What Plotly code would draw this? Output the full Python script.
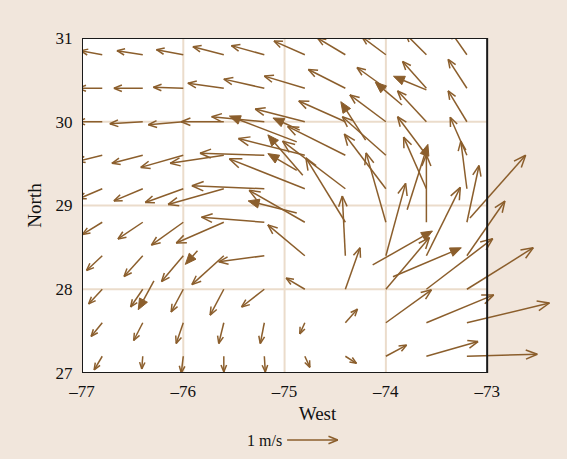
import math
import plotly.graph_objects as go

# ---------------- data ----------------
lons = [-76.8, -76.4, -76.0, -75.6, -75.2, -74.8, -74.4, -74.0, -73.6, -73.2]
lats = [30.8, 30.4, 30.0, 29.6, 29.2, 28.8, 28.4, 28.0, 27.6, 27.2]

# eastward velocity u (m/s), one row per latitude (north to south)
u_rows = [
    [-0.43, -0.51, -0.53, -0.61, -0.65, -0.61, -0.55, -0.47, -0.41, -0.33],
    [-0.47, -0.57, -0.59, -0.71, -0.80, -0.80, -0.73, -0.57, -0.47, -0.37],
    [-0.49, -0.65, -0.69, -0.84, -1.04, -0.98, -0.92, -0.71, -0.57, -0.37],
    [-0.49, -0.61, -0.84, -1.06, -1.27, -1.31, -1.14, -0.86, -0.57, -0.33],
    [-0.47, -0.57, -0.75, -1.10, -1.43, -1.49, -1.24, -0.82, -0.45, -0.12],
    [-0.39, -0.49, -0.63, -0.94, -1.24, -1.10, -0.78, -0.39, 0.00, 0.24],
    [-0.31, -0.37, -0.43, -0.63, -0.90, -0.73, -0.06, 0.39, 0.67, 0.75],
    [-0.27, -0.24, -0.24, -0.27, -0.45, -0.37, 0.29, 0.86, 1.31, 1.31],
    [-0.22, -0.18, -0.14, -0.10, -0.08, -0.10, 0.24, 0.90, 1.33, 1.63],
    [-0.16, -0.02, -0.04, 0.00, 0.02, 0.10, 0.22, 0.41, 1.02, 1.39],
]
# northward velocity v (m/s)
v_rows = [
    [0.08, 0.08, 0.10, 0.16, 0.18, 0.27, 0.33, 0.35, 0.41, 0.47],
    [0.00, 0.00, 0.02, 0.10, 0.18, 0.24, 0.37, 0.41, 0.53, 0.57],
    [0.00, -0.04, -0.06, 0.00, 0.10, 0.25, 0.41, 0.53, 0.61, 0.61],
    [-0.12, -0.16, -0.24, -0.16, 0.04, 0.33, 0.57, 0.76, 0.76, 0.75],
    [-0.20, -0.24, -0.27, -0.31, 0.06, 0.59, 0.94, 1.08, 1.02, 0.94],
    [-0.24, -0.33, -0.45, -0.41, 0.10, 0.63, 1.27, 1.37, 1.33, 1.12],
    [-0.29, -0.41, -0.51, -0.57, -0.12, 0.61, 1.18, 1.43, 1.35, 1.08],
    [-0.29, -0.35, -0.45, -0.51, -0.35, 0.22, 0.82, 1.02, 1.00, 0.82],
    [-0.27, -0.35, -0.41, -0.41, -0.41, -0.22, 0.27, 0.65, 0.55, 0.39],
    [-0.27, -0.25, -0.33, -0.31, -0.31, -0.22, -0.14, 0.22, 0.29, 0.04],
]

# one extra open arrow off the grid
extra_lon = [-73.17]
extra_lat = [28.85]
extra_u = [1.10]
extra_v = [1.24]

# second set of vectors (filled heads)
obs_lon = [-73.84, -73.60, -74.88, -74.85, -74.82, -74.88, -74.88, -76.99, -75.86, -76.29, -74.13, -73.93, -73.79, -74.20]
obs_lat = [30.20, 30.38, 29.76, 29.90, 29.36, 29.42, 28.91, 28.62, 28.46, 28.10, 28.29, 28.15, 28.95, 29.78]
obs_u = [-0.53, -0.65, -1.33, -0.53, -0.69, -0.57, -0.96, -0.35, -0.24, -0.31, 1.18, 1.35, 0.41, -0.49]
obs_v = [0.45, 0.27, 0.51, 0.24, 0.80, 0.33, 0.24, 0.00, -0.27, -0.57, 0.67, 0.57, 1.29, 0.76]

x_ticks = [-77, -76, -75, -74, -73]
x_labels = ["–77", "–76", "–75", "–74", "–73"]
y_ticks = [27, 28, 29, 30, 31]
y_labels = ["27", "28", "29", "30", "31"]

# ---------------- layout geometry ----------------
W, H = 567, 459
ML, MR, MT, MB = 82, 14, 38, 86
XR = [-77, -72.35]
YR = [27, 31]
FRAME_X = [-77, -73]
pxx = (W - ML - MR) / (XR[1] - XR[0])   # px per degree lon
pyy = (H - MT - MB) / (YR[1] - YR[0])   # px per degree lat
DEG_PER_MS = 0.5                        # 1 m/s drawn as 0.5 deg of longitude
S = DEG_PER_MS * pxx                    # px per m/s

COL = "#8B5E2C"
BG = "#F1E6DC"
GRID = "#EBDCCB"
HEAD_ANG = math.radians(22)


def open_arrow(x0, y0, u, v, xs, ys):
    dxp, dyp = u * S, v * S
    L = math.hypot(dxp, dyp)
    if L < 1e-6:
        return
    x1, y1 = x0 + dxp / pxx, y0 + dyp / pyy
    xs += [x0, x1, None]
    ys += [y0, y1, None]
    h = min(6 + 0.09 * L, 13)
    ang = math.atan2(dyp, dxp)
    for s in (1, -1):
        a = ang + math.pi + s * HEAD_ANG
        bx, by = x1 + h * math.cos(a) / pxx, y1 + h * math.sin(a) / pyy
        xs += [x1, bx, None]
        ys += [y1, by, None]


def filled_arrow(x0, y0, u, v, xs, ys, hx, hy):
    dxp, dyp = u * S, v * S
    ang = math.atan2(dyp, dxp)
    x1, y1 = x0 + dxp / pxx, y0 + dyp / pyy
    hl, hw = 11, 4.5
    bx = x1 - hl * math.cos(ang) / pxx
    by = y1 - hl * math.sin(ang) / pyy
    xs += [x0, bx, None]
    ys += [y0, by, None]
    nx, ny = -math.sin(ang), math.cos(ang)
    hx += [x1, bx + hw * nx / pxx, bx - hw * nx / pxx, x1, None]
    hy += [y1, by + hw * ny / pyy, by - hw * ny / pyy, y1, None]


ax, ay = [], []
for i, la in enumerate(lats):
    for j, lo in enumerate(lons):
        open_arrow(lo, la, u_rows[i][j], v_rows[i][j], ax, ay)
for lo, la, u, v in zip(extra_lon, extra_lat, extra_u, extra_v):
    open_arrow(lo, la, u, v, ax, ay)

fx, fy, hx, hy = [], [], [], []
for lo, la, u, v in zip(obs_lon, obs_lat, obs_u, obs_v):
    filled_arrow(lo, la, u, v, fx, fy, hx, hy)

fig = go.Figure()
fig.add_trace(go.Scatter(x=ax, y=ay, mode="lines", line=dict(color=COL, width=1.5),
                         hoverinfo="skip", showlegend=False))
fig.add_trace(go.Scatter(x=fx, y=fy, mode="lines", line=dict(color=COL, width=1.5),
                         hoverinfo="skip", showlegend=False))
fig.add_trace(go.Scatter(x=hx, y=hy, mode="lines", fill="toself", fillcolor=COL,
                         line=dict(color=COL, width=1), hoverinfo="skip", showlegend=False))

shapes = []
shapes.append(dict(type="rect", xref="x", yref="y", x0=FRAME_X[0], x1=FRAME_X[1],
                   y0=YR[0], y1=YR[1], fillcolor="white", line=dict(width=0), layer="below"))
for gx in x_ticks[1:-1]:
    shapes.append(dict(type="line", xref="x", yref="y", x0=gx, x1=gx, y0=YR[0], y1=YR[1],
                       line=dict(color=GRID, width=2), layer="below"))
for gy in y_ticks[1:-1]:
    shapes.append(dict(type="line", xref="x", yref="y", x0=FRAME_X[0], x1=FRAME_X[1], y0=gy, y1=gy,
                       line=dict(color=GRID, width=2), layer="below"))
shapes.append(dict(type="rect", xref="x", yref="y", x0=FRAME_X[0], x1=FRAME_X[1],
                   y0=YR[0], y1=YR[1], line=dict(color="#1a1a1a", width=2), layer="above"))

# reference arrow 1 m/s
ref_x0 = -74.975
ref_y = -0.2
ref_x1 = ref_x0 + 1.0 * DEG_PER_MS
shapes.append(dict(type="line", xref="x", yref="paper", x0=ref_x0, x1=ref_x1, y0=ref_y, y1=ref_y,
                   line=dict(color=COL, width=1.5)))
hpx = 10
for s in (1, -1):
    a = math.pi + s * HEAD_ANG
    shapes.append(dict(type="line", xref="x", yref="paper", x0=ref_x1, y0=ref_y,
                       x1=ref_x1 + hpx * math.cos(a) / pxx,
                       y1=ref_y + hpx * math.sin(a) / (H - MT - MB),
                       line=dict(color=COL, width=1.5)))

fig.update_layout(
    width=W, height=H,
    margin=dict(l=ML, r=MR, t=MT, b=MB),
    paper_bgcolor=BG, plot_bgcolor=BG,
    font=dict(family="Liberation Serif", size=17, color="#111111"),
    shapes=shapes,
    annotations=[dict(x=-75.2, y=ref_y, xref="x", yref="paper", text="1 m/s",
                      showarrow=False, font=dict(size=16), xanchor="center", yanchor="middle")],
    xaxis=dict(range=XR, tickvals=x_ticks, ticktext=x_labels, showgrid=False, zeroline=False,
               showline=False, ticks="outside", ticklen=3, tickcolor="rgba(0,0,0,0)",
               title=dict(text="West", font=dict(size=19), standoff=6)),
    yaxis=dict(range=YR, tickvals=y_ticks, ticktext=y_labels, showgrid=False, zeroline=False,
               showline=False, ticks="outside", ticklen=5, tickcolor="rgba(0,0,0,0)",
               title=dict(text="North", font=dict(size=19), standoff=8)),
)

fig.write_html("out.html")
